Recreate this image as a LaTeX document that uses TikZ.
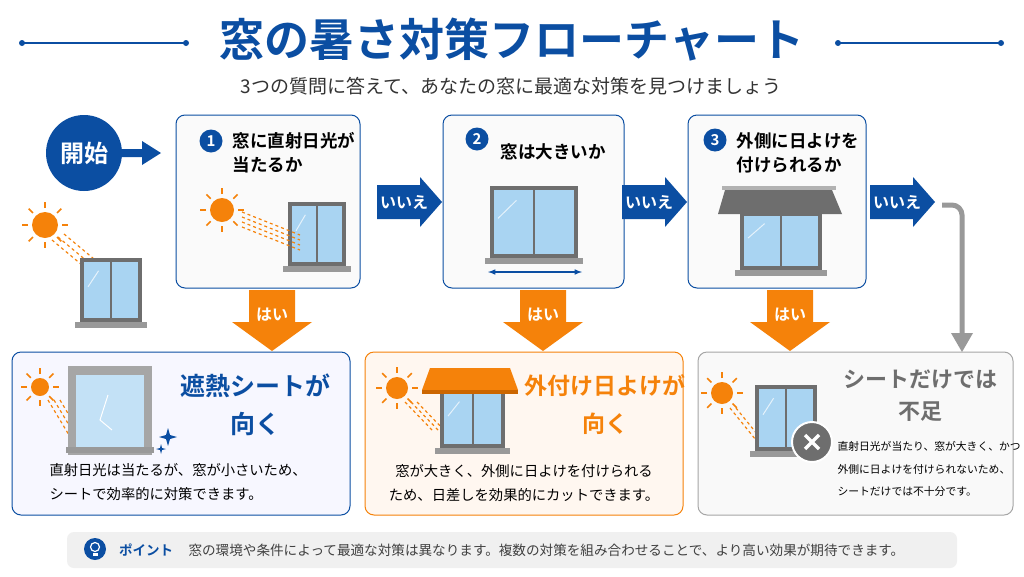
\documentclass[tikz,border=0pt]{standalone}
\usepackage{fontspec}
\setmainfont{Noto Sans CJK JP}[BoldFont={* Bold}]
\definecolor{mblue}{HTML}{0B4EA2}
\definecolor{morange}{HTML}{F5820A}
\definecolor{winblue}{HTML}{A9D4F2}
\definecolor{fgray}{HTML}{6E6E6E}
\newcommand\mywin[4]{%
 \fill[fgray] (#1,#2) rectangle ++(#3,#4);
 \fill[winblue] ({#1+4},{#2+4}) rectangle ({#1+#3/2-1},{#2+#4-4});
 \fill[winblue] ({#1+#3/2+1},{#2+4}) rectangle ({#1+#3-4},{#2+#4-4});
 \draw[white,opacity=.7,line width=1pt] ({#1+8},{#2+#4*0.45}) -- ({#1+#3*0.3},{#2+#4*0.2});
 \fill[gray!80] ({#1-5},{#2+#4}) rectangle ({#1+#3+5},{#2+#4+6});}
\newcommand\mysun[3]{% x y r
 \fill[morange] (#1,#2) circle (#3);
 \foreach \a in {0,45,...,315}{\draw[morange,line width=1.6pt] ($(#1,#2)+(\a:{#3+4})$) -- ($(#1,#2)+(\a:{#3+10})$);}}
\usetikzlibrary{calc}
\tikzset{
 qbox/.style={draw=mblue,line width=1pt,fill=gray!4,rounded corners=9pt},
 num/.style={circle,fill=mblue,text=white,font=\bfseries\fontsize{15}{15}\selectfont,inner sep=0pt,minimum size=23pt},
 qtxt/.style={font=\bfseries\fontsize{17.5}{24}\selectfont,align=left,anchor=west},
 body/.style={font=\fontsize{14.3}{24}\selectfont,align=left},
 lbl/.style={text=white,font=\bfseries\fontsize{16}{16}\selectfont},
 ray/.style={morange,dashed,line width=1.2pt}
}
\begin{document}
\begin{tikzpicture}[x=1pt,y=-1pt]
\useasboundingbox (0,0) rectangle (1024,576);
\fill[white] (0,0) rectangle (1024,576);
% title
\node[font=\bfseries\fontsize{45}{45}\selectfont,text=mblue] (title) at (512,40) {窓の暑さ対策フローチャート};
\coordinate (l1) at (22,43); \coordinate (l2) at (186,43);
\coordinate (r1) at (838,43); \coordinate (r2) at (1001,43);
\draw[mblue,line width=1.5pt] (l1)--(l2) (r1)--(r2);
\fill[mblue] (l1) circle (3) (l2) circle (3) (r1) circle (3) (r2) circle (3);
\node[font=\fontsize{19}{19}\selectfont,text=black!80] (sub) at (511,86) {3つの質問に答えて、あなたの窓に最適な対策を見つけましょう};
% start
\node[circle,fill=mblue,text=white,minimum size=76pt,font=\bfseries\fontsize{24}{24}\selectfont] (start) at (84,153) {開始};
\fill[mblue] (118,149) -- (142,149) -- (142,141) -- (161,153) -- (142,165) -- (142,157) -- (118,157) -- cycle;
\mysun{45}{225}{13}
\foreach \d in {0,6,12}{\draw[ray] (52+\d,240-\d/2) -- (100+\d,280-\d/2);}
\mywin{80}{258}{62}{64}
% boxes
\node[qbox,minimum width=184pt,minimum height=173pt] (b1) at (268,201.5) {};
\node[qbox,minimum width=181pt,minimum height=173pt] (b2) at (533.5,201.5) {};
\node[qbox,minimum width=178pt,minimum height=173pt] (b3) at (777,201.5) {};
\node[num] (n1) at (211,141) {1};
\node[qtxt] (t1) at (229,153) {窓に直射日光が\\当たるか};
\node[num] (n2) at (477,139) {2};
\node[qtxt] (t2) at (497,152) {窓は大きいか};
\node[num] (n3) at (715,140) {3};
\node[qtxt] (t3) at (733,153) {外側に日よけを\\付けられるか};
% box1 pic
\mysun{222}{210}{12}
\fill[yellow!50!gray!40] (290,225) -- (300,268) -- (288,268) -- cycle;
\mywin{288}{202}{58}{64}
\foreach \d in {0,5,10,15}{\draw[ray] (242,212+\d) -- (300,235+\d);}
% box2 pic
\mywin{490}{186}{88}{72}
\draw[mblue,line width=1.5pt,<->,>=latex] (488,272) -- (582,272);
% box3 pic
\mywin{740}{212}{82}{58}
\fill[fgray] (725,190) -- (832,190) -- (842,214) -- (718,214) -- cycle;
\fill[gray!60] (722,190) rectangle (836,186);
% no arrows
\foreach \x in {377,622,870}{
 \fill[mblue] (\x,185) -- (\x+43,185) -- (\x+43,177) -- (\x+65,202) -- (\x+43,227) -- (\x+43,219) -- (\x,219) -- cycle;
 \node[lbl] at (\x+27,202) {いいえ};}
% yes arrows
\foreach \x in {272,543,790}{
 \fill[morange] (\x-23,290) -- (\x+23,290) -- (\x+23,322) -- (\x+40,322) -- (\x,351) -- (\x-40,322) -- (\x-23,322) -- cycle;
 \node[lbl] at (\x,315) {はい};}
% gray arrow
\draw[gray!80,line width=5pt,rounded corners=10pt] (942,205) -- (962,205) -- (962,335);
\fill[gray!80] (951,333) -- (973,333) -- (962,352) -- cycle;
% result boxes
\node[draw=mblue,fill=blue!3,line width=1pt,rounded corners=9pt,minimum width=338pt,minimum height=163pt] (r1b) at (181,433.5) {};
\node[draw=morange,fill=orange!6,line width=1pt,rounded corners=9pt,minimum width=318pt,minimum height=163pt] (r2b) at (524,433.5) {};
\node[draw=gray!70,fill=gray!5,line width=1pt,rounded corners=9pt,minimum width=315pt,minimum height=163pt] (r3b) at (855.5,433.5) {};
% result1
\mysun{40}{387}{9}
\foreach \d in {0,6,12}{\draw[ray] (48+\d,400) -- (75+\d,445);}
\fill[gray!70] (68,366) rectangle (152,455);
\fill[winblue!70!white] (76,375) rectangle (144,447);
\draw[white,line width=1pt] (108,395) -- (100,420) -- (112,430);
\fill[gray!80] (66,447) rectangle (154,453);
\fill[mblue] (168,428) -- (170,435) -- (177,437) -- (170,439) -- (168,446) -- (166,439) -- (159,437) -- (166,435) -- cycle;
\fill[mblue] (161,444) -- (162,448) -- (166,449) -- (162,450) -- (161,454) -- (160,450) -- (156,449) -- (160,448) -- cycle;
\node[font=\bfseries\fontsize{25}{38}\selectfont,text=mblue,align=center] (h1) at (255,405) {遮熱シートが\\向く};
\node[body,anchor=west] (p1) at (46,482) {直射日光は当たるが、窓が小さいため、\\シートで効率的に対策できます。};
% result2
\mysun{397}{388}{11}
\foreach \d in {0,6,12}{\draw[ray] (405+\d,402) -- (432+\d,430);}
\mywin{440}{390}{65}{58}
\fill[morange] (430,368) -- (510,368) -- (518,390) -- (422,390) -- cycle;
\fill[orange!80!black] (422,390) rectangle (518,394);
\node[font=\bfseries\fontsize{23}{38}\selectfont,text=morange,align=center] (h2) at (605,405) {外付け日よけが\\向く};
\node[body,align=center] (p2) at (524,483) {窓が大きく、外側に日よけを付けられる\\ため、日差しを効果的にカットできます。};
% result3
\mysun{722}{393}{11}
\foreach \d in {0,6}{\draw[ray] (730+\d,408) -- (760+\d,445);}
\mywin{755}{385}{62}{66}
\node[circle,fill=fgray,draw=white,line width=2pt,minimum size=40pt] (x) at (812,442) {};
\draw[white,line width=3.5pt] ($(x)+(-7,-7)$) -- ($(x)+(7,7)$) ($(x)+(7,-7)$) -- ($(x)+(-7,7)$);
\node[font=\bfseries\fontsize{22}{32}\selectfont,text=fgray,align=center] (h3) at (920,396) {シートだけでは\\不足};
\node[font=\fontsize{10.8}{22.5}\selectfont,align=left,anchor=west] (p3) at (834,469) {直射日光が当たり、窓が大きく、かつ\\外側に日よけを付けられないため、\\シートだけでは不十分です。};
% point bar
\node[fill=gray!12,rounded corners=7pt,minimum width=890pt,minimum height=36pt] (bar) at (512,550) {};
\node[circle,fill=mblue,minimum size=22pt,inner sep=0pt] (bulb) at (95,549) {};
\draw[white,line width=1.2pt] ($(bulb)+(0,-2)$) circle (4.5);
\fill[white] ($(bulb)+(-2.5,4)$) rectangle ($(bulb)+(2.5,7)$);
\node[font=\bfseries\fontsize{13.5}{13.5}\selectfont,text=mblue] (pt) at (146,550) {ポイント};
\node[font=\fontsize{13.6}{13.6}\selectfont,text=black!75,anchor=west] (ptx) at (185,550) {窓の環境や条件によって最適な対策は異なります。複数の対策を組み合わせることで、より高い効果が期待できます。};
\end{tikzpicture}
\end{document}
